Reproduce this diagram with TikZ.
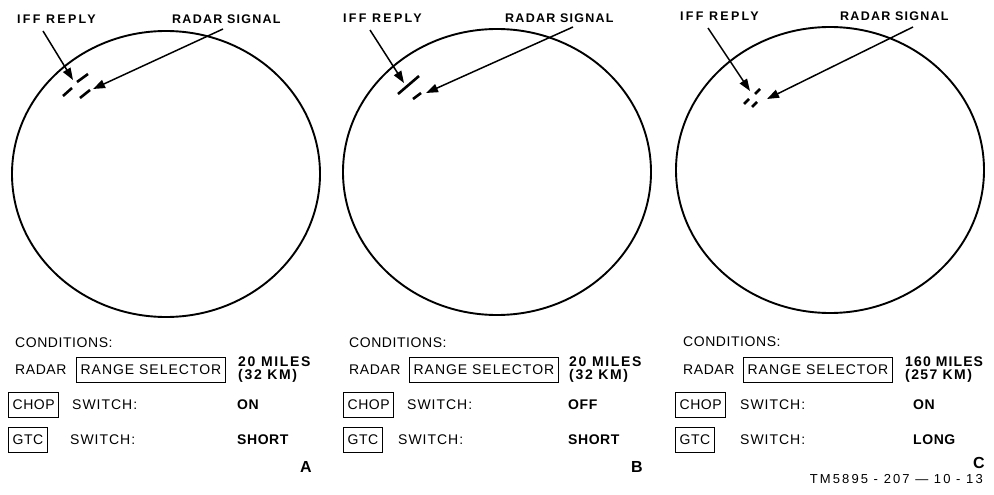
\documentclass[tikz,border=0pt]{standalone}
\usepackage{fontspec}
\setmainfont{Liberation Sans}[LetterSpace=4]
\usetikzlibrary{arrows.meta}
% letter-spaced lettering
\newcommand{\spaced}[2]{{\addfontfeatures{LetterSpace=#1}#2}}
\tikzset{
  scope/.style={draw, line width=1.9pt},
  lbl/.style={font=\fontsize{12.5}{14}\selectfont\bfseries, inner sep=0pt, anchor=west},
  txt/.style={font=\fontsize{14}{15}\selectfont, inner sep=0pt, anchor=west},
  val/.style={font=\fontsize{14}{15}\selectfont\bfseries, inner sep=0pt, anchor=west},
  rangetxt/.style={font=\fontsize{14}{13}\selectfont\bfseries, inner sep=0pt, anchor=west, align=left},
  keybox/.style={draw, line width=1.2pt, font=\fontsize{14}{15}\selectfont, inner xsep=4pt, minimum height=25pt, anchor=west},
  ptr/.style={line width=1.5pt, -{Triangle[length=12pt,width=8.5pt]}},
  blip/.style={line width=2.6pt},
  tag/.style={font=\fontsize{16}{17}\selectfont\bfseries, inner sep=0pt}
}
\begin{document}
\begin{tikzpicture}[x=1pt, y=-1pt]
\path[use as bounding box] (0,0) rectangle (994,495);

% ---------- panel A ----------
\draw[scope] (166,174) ellipse [x radius=154, y radius=143];
\node[lbl] (iffA) at (17,19.5) {\spaced{18}{IFF REPLY}};
\node[lbl] (radA) at (172,19.5) {\spaced{10}{RADAR SIGNAL}};
\coordinate (iffAs) at (43,31);
\coordinate (iffAt) at (73,80);
\coordinate (radAs) at (223,29);
\coordinate (radAt) at (93,89);
\draw[blip] (63,96) -- (72,88) (77,82) -- (88,74);
\draw[blip] (80,98) -- (90,90);
\draw[ptr] (iffAs) -- (iffAt);
\draw[ptr] (radAs) -- (radAt);

\node[txt] (condA) at (15,343) {CONDITIONS:};
\node[txt] (radarA) at (15,370) {RADAR};
\node[keybox] (rsA) at (76,370) {\spaced{7}{RANGE SELECTOR}};
\node[rangetxt] (rangeA) at (238,370) {\spaced{12}{20 MILES}\\\spaced{12}{(32 KM)}};
\node[keybox] (chopA) at (8,405) {CHOP};
\node[txt] (swcA) at (72,405) {\spaced{7}{SWITCH:}};
\node[val] (chopvA) at (237,405) {ON};
\node[keybox] (gtcA) at (8,440) {GTC};
\node[txt] (swgA) at (70,440) {\spaced{7}{SWITCH:}};
\node[val] (gtcvA) at (237,440) {SHORT};
\node[tag] (tagA) at (306,467) {A};

% ---------- panel B ----------
\draw[scope] (497,172) ellipse [x radius=154, y radius=143];
\node[lbl] (iffB) at (343,18) {\spaced{18}{IFF REPLY}};
\node[lbl] (radB) at (505,18) {\spaced{10}{RADAR SIGNAL}};
\coordinate (iffBs) at (370,30);
\coordinate (iffBt) at (404,83);
\coordinate (radBs) at (573,27);
\coordinate (radBt) at (426,93);
\draw[blip] (398,94) -- (419,76);
\draw[blip] (413,99) -- (421,93);
\draw[ptr] (iffBs) -- (iffBt);
\draw[ptr] (radBs) -- (radBt);

\node[txt] (condB) at (349,343) {CONDITIONS:};
\node[txt] (radarB) at (349,370) {RADAR};
\node[keybox] (rsB) at (409,370) {\spaced{7}{RANGE SELECTOR}};
\node[rangetxt] (rangeB) at (569,370) {\spaced{12}{20 MILES}\\\spaced{12}{(32 KM)}};
\node[keybox] (chopB) at (343,405) {CHOP};
\node[txt] (swcB) at (407,405) {\spaced{7}{SWITCH:}};
\node[val] (chopvB) at (568,405) {OFF};
\node[keybox] (gtcB) at (343,440) {GTC};
\node[txt] (swgB) at (398,440) {\spaced{7}{SWITCH:}};
\node[val] (gtcvB) at (568,440) {SHORT};
\node[tag] (tagB) at (637,467) {B};

% ---------- panel C ----------
\draw[scope] (830,170) ellipse [x radius=154, y radius=143];
\node[lbl] (iffC) at (680,16) {\spaced{18}{IFF REPLY}};
\node[lbl] (radC) at (840,16) {\spaced{10}{RADAR SIGNAL}};
\coordinate (iffCs) at (708,28);
\coordinate (iffCt) at (750,91);
\coordinate (radCs) at (913,27);
\coordinate (radCt) at (767,99);
\draw[blip] (744,104) -- (749,99) (755,94) -- (760,89);
\draw[blip] (752,107) -- (757,102);
\draw[ptr] (iffCs) -- (iffCt);
\draw[ptr] (radCs) -- (radCt);

\node[txt] (condC) at (683,342) {CONDITIONS:};
\node[txt] (radarC) at (683,370) {RADAR};
\node[keybox] (rsC) at (743,370) {\spaced{7}{RANGE SELECTOR}};
\node[rangetxt] (rangeC) at (905,370) {\spaced{8}{160 MILES}\\\spaced{10}{(257 KM)}};
\node[keybox] (chopC) at (675,405) {CHOP};
\node[txt] (swcC) at (740,405) {\spaced{7}{SWITCH:}};
\node[val] (chopvC) at (913,405) {ON};
\node[keybox] (gtcC) at (675,440) {GTC};
\node[txt] (swgC) at (740,440) {\spaced{7}{SWITCH:}};
\node[val] (gtcvC) at (913,440) {LONG};
\node[tag] (tagC) at (979,463) {C};
\node[txt, anchor=east, font=\fontsize{13}{14}\selectfont] (fig) at (983,479) {\spaced{16}{TM5895 - 207 — 10 - 13}};
\end{tikzpicture}
\end{document}
